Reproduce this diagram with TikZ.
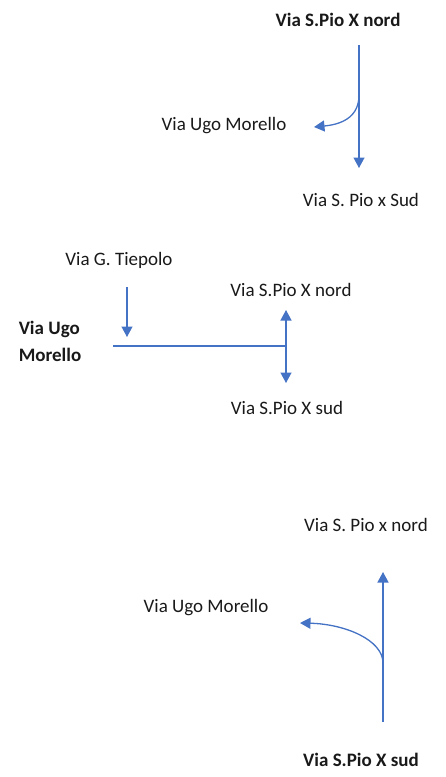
\documentclass[tikz,border=0pt]{standalone}
\usepackage{fontspec}
\setmainfont{Carlito}
\usetikzlibrary{arrows.meta}
\definecolor{offblue}{RGB}{68,114,196}
\tikzset{
  lbl/.style={font=\fontsize{19}{23}\selectfont, inner sep=0pt, text=black!90},
  blbl/.style={lbl, font=\fontsize{19}{23}\selectfont\bfseries},
  road/.style={draw=offblue, line width=1.3pt},
  arr/.style={road, -{Triangle[width=11pt,length=10.5pt]}},
}
\begin{document}
\begin{tikzpicture}[x=1pt,y=-1pt]
\useasboundingbox (0,0) rectangle (445,777);
% ---------- section 1
\node[blbl] (n1) at (338,20) {Via S.Pio X nord};
\node[lbl] (m1) at (224,126) {Via Ugo Morello};
\node[lbl] (s1) at (361,200) {Via S. Pio x Sud};
\coordinate (a1) at (359,45);
\coordinate (b1) at (359,168);
\coordinate (c1) at (359,95);
\coordinate (d1) at (314,127);
\draw[arr] (a1) -- (b1);
\draw[arr] (c1) .. controls (359,115) and (345,124) .. (d1);
% ---------- section 2
\node[lbl] (t2) at (119,260) {Via G. Tiepolo};
\node[blbl, align=left, font=\fontsize{19}{27}\selectfont\bfseries] (m2) at (50,341) {Via Ugo\\Morello};
\node[lbl] (n2) at (291,290) {Via S.Pio X nord};
\node[lbl] (s2) at (287,408) {Via S.Pio X sud};
\coordinate (a2) at (127,287);
\coordinate (b2) at (127,337);
\coordinate (h0) at (113,346);
\coordinate (h1) at (286,346);
\coordinate (up2) at (286,310);
\coordinate (dn2) at (286,383);
\draw[arr] (a2) -- (b2);
\draw[road] (h0) -- (h1);
\draw[arr] (h1) -- (up2);
\draw[arr] (h1) -- (dn2);
% ---------- section 3
\node[lbl] (n3) at (366,525) {Via S. Pio x nord};
\node[lbl] (m3) at (206,608) {Via Ugo Morello};
\node[blbl] (s3) at (361,760) {Via S.Pio X sud};
\coordinate (a3) at (383,722);
\coordinate (b3) at (383,572);
\coordinate (c3) at (383,663);
\coordinate (d3) at (300,623);
\draw[arr] (a3) -- (b3);
\draw[arr] (c3) .. controls (383,640) and (345,624) .. (d3);
\end{tikzpicture}
\end{document}
